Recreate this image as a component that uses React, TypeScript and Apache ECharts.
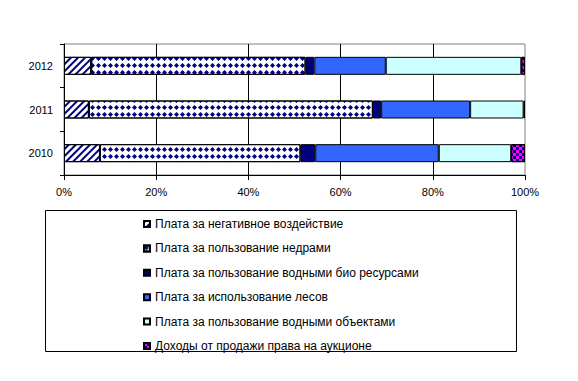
import React, { useEffect, useRef } from 'react';
import * as echarts from 'echarts';

const years = ['2010', '2011', '2012'];
const seriesNames = [
  'Плата за негативное воздействие',
  'Плата за пользование недрами',
  'Плата за пользование водными био ресурсами',
  'Плата за использование лесов',
  'Плата за пользование водными объектами',
  'Доходы от продажи права на аукционе',
];
const negativeImpact = [7.8, 5.4, 5.9];
const subsoil = [43.5, 61.6, 46.5];
const bioResources = [3.2, 1.8, 1.9];
const forests = [26.8, 19.3, 15.5];
const waterObjects = [15.7, 11.6, 29.4];
const auction = [3.0, 0.3, 0.8];
const xTicks = [0, 20, 40, 60, 80, 100];

const FONT = '"Liberation Sans", Arial, sans-serif';

export default function App() {
  const ref = useRef<HTMLDivElement>(null);
  useEffect(() => {
    if (!ref.current) return;
    const chart = echarts.init(ref.current, null, { renderer: 'svg' });
    const values = [negativeImpact, subsoil, bioResources, forests, waterObjects, auction];
    const styles: any[] = [
      {
        color: '#ffffff',
        decal: {
          symbol: 'rect',
          color: '#000080',
          dashArrayX: [1, 0],
          dashArrayY: [1.6, 2.2],
          rotation: -Math.PI / 4,
        },
      },
      {
        color: '#ffffff',
        decal: {
          symbol: 'diamond',
          color: '#000080',
          symbolSize: 1,
          dashArrayX: [5, 1],
          dashArrayY: [5, 2],
          rotation: 0,
        },
      },
      { color: '#000080' },
      { color: '#3366FF' },
      { color: '#CCFFFF' },
      {
        color: '#FF00FF',
        decal: {
          symbol: 'rect',
          color: '#000080',
          symbolSize: 1,
          dashArrayX: [[3, 3], [0, 3, 3, 0]],
          dashArrayY: [3, 0],
          rotation: 0,
        },
      },
    ];
    const series = seriesNames.map((name, i) => ({
      name,
      type: 'bar',
      stack: 'total',
      barWidth: 18,
      data: values[i],
      itemStyle: { ...styles[i], borderColor: '#000000', borderWidth: 1 },
    }));
    chart.setOption({
      animation: false,
      textStyle: { fontFamily: FONT },
      grid: {
        left: 64,
        right: 53,
        top: 44,
        bottom: 206,
        show: true,
        borderColor: '#808080',
        borderWidth: 1,
        backgroundColor: 'transparent',
      },
      xAxis: {
        type: 'value',
        min: xTicks[0],
        max: xTicks[xTicks.length - 1],
        interval: 20,
        axisLine: { show: true, lineStyle: { color: '#000', width: 1 } },
        axisTick: { show: true, length: 5, lineStyle: { color: '#000' } },
        axisLabel: {
          formatter: '{value}%',
          color: '#000',
          fontSize: 11,
          fontFamily: FONT,
          margin: 11,
        },
        splitLine: {
          show: true,
          showMinLine: false,
          showMaxLine: false,
          lineStyle: { color: '#000', width: 1 },
        },
      },
      yAxis: {
        type: 'category',
        data: years,
        axisLine: { show: true, lineStyle: { color: '#000', width: 1 } },
        axisTick: { show: true, length: 4, lineStyle: { color: '#000' } },
        axisLabel: { color: '#000', fontSize: 11, fontFamily: FONT, margin: 11 },
        splitLine: { show: false },
      },
      legend: {
        orient: 'vertical',
        left: 143,
        top: 218,
        padding: 0,
        itemWidth: 6,
        itemHeight: 6,
        itemGap: 12.4,
        icon: 'rect',
        data: seriesNames,
        textStyle: { fontSize: 12, color: '#000', fontFamily: FONT, lineHeight: 12 },
      },
      graphic: [
        {
          type: 'rect',
          shape: { x: 45.5, y: 210.5, width: 471, height: 141 },
          style: { fill: 'none', stroke: '#000', lineWidth: 1 },
          silent: true,
        },
      ],
      series,
    });
    return () => chart.dispose();
  }, []);
  return (
    <div
      ref={ref}
      style={{ position: 'fixed', left: 0, top: 0, width: 578, height: 381, background: '#fff' }}
    />
  );
}
